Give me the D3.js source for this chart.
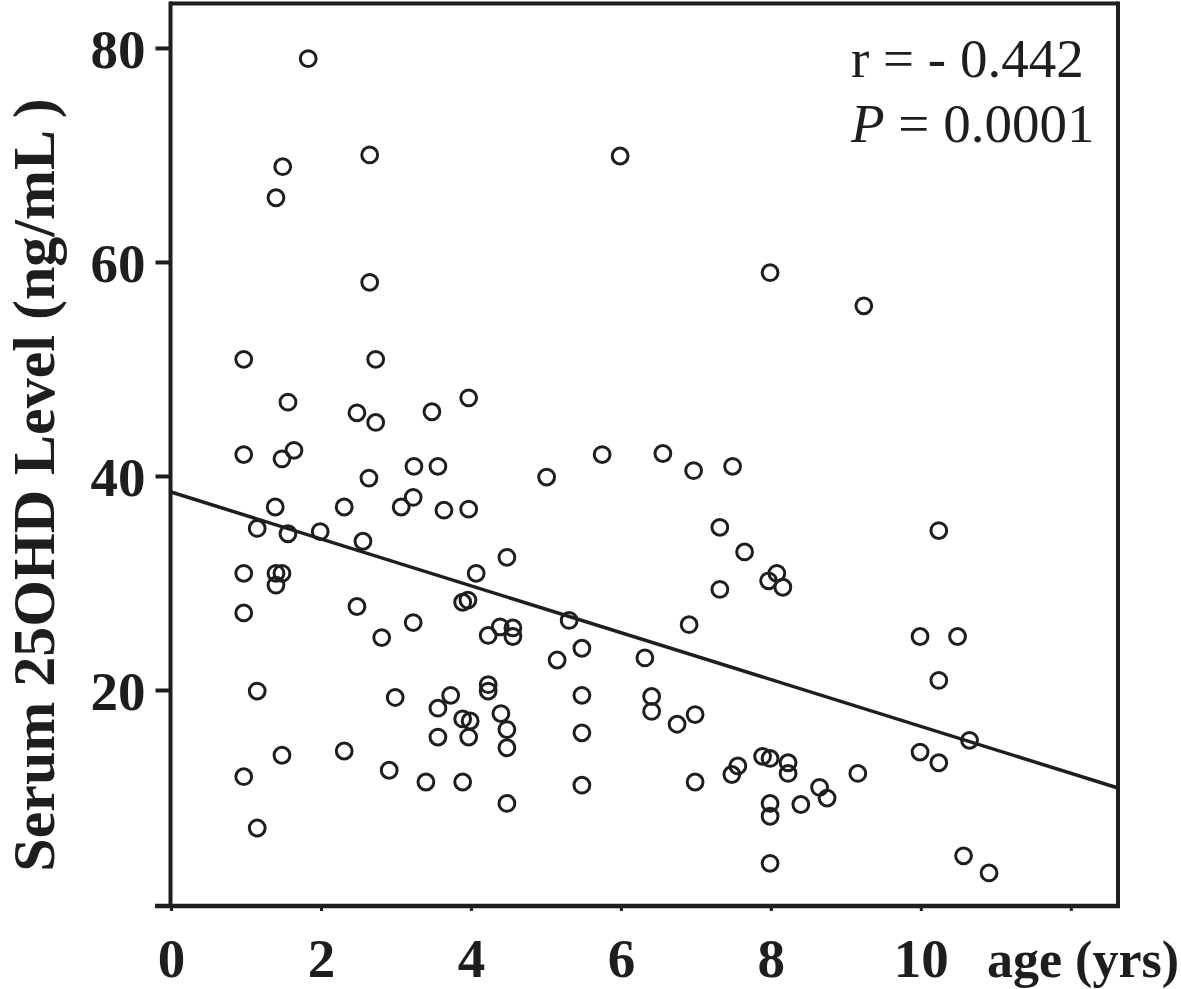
<!DOCTYPE html>
<html>
<head>
<meta charset="utf-8">
<script src="https://cdn.jsdelivr.net/npm/d3@7"></script>
<style>
  html, body { margin: 0; padding: 0; background: #fff; }
  svg { display: block; }
  text { font-family: "Liberation Serif", "Times New Roman", serif; fill: #1e1e1e; }
</style>
</head>
<body>
<svg id="chart" width="1181" height="989"></svg>
<script>
// ---- data ----
const ageYears = [
  1.83, 1.49, 1.40, 2.65, 2.65, 5.99, 7.99, 9.24, 0.97, 2.73,
  1.56, 3.97, 3.48, 2.48, 2.73, 0.97, 1.64, 1.48, 3.24, 3.56,
  5.75, 6.56, 6.97, 7.49, 5.01, 2.64, 1.39, 2.31, 3.23, 3.07,
  3.64, 3.97, 1.15, 1.56, 1.99, 2.56, 7.32, 7.65, 10.24, 4.48,
  0.97, 1.40, 1.48, 1.40, 4.07, 8.08, 7.97, 8.16, 7.32, 3.89,
  3.96, 2.48, 0.97, 5.31, 3.23, 6.91, 4.39, 4.56, 4.23, 4.56,
  2.81, 9.99, 10.49, 5.48, 5.15, 6.32, 10.24, 1.15, 4.23, 4.23,
  2.99, 3.73, 5.48, 6.41, 6.41, 3.56, 6.75, 6.99, 3.89, 3.99,
  4.40, 4.48, 5.48, 3.56, 3.97, 10.65, 4.48, 1.48, 2.31, 9.99,
  7.89, 7.99, 8.23, 8.23, 10.24, 7.56, 7.48, 9.16, 0.97, 2.91,
  3.40, 3.89, 5.48, 6.99, 8.65, 8.75, 7.99, 8.40, 4.48, 7.99,
  1.15, 7.99, 10.57, 10.91
];
const serumLevel = [
  79.0, 68.9, 66.0, 70.0, 58.1, 69.9, 59.0, 55.9, 50.9, 50.9,
  46.9, 47.3, 46.0, 45.9, 45.0, 42.0, 42.4, 41.6, 40.9, 40.9,
  42.0, 42.1, 40.5, 40.9, 39.9, 39.8, 37.1, 37.1, 38.0, 37.1,
  36.8, 36.9, 35.1, 34.6, 34.8, 33.9, 35.2, 32.9, 34.9, 32.4,
  30.9, 30.9, 30.9, 29.8, 30.9, 30.9, 30.2, 29.6, 29.4, 28.2,
  28.4, 27.8, 27.2, 26.5, 26.3, 26.1, 25.9, 25.8, 25.1, 25.0,
  24.9, 25.0, 25.0, 23.9, 22.8, 23.0, 20.9, 19.9, 20.5, 19.9,
  19.3, 19.5, 19.5, 19.4, 18.0, 18.3, 16.8, 17.7, 17.3, 17.1,
  17.8, 16.3, 16.0, 15.6, 15.6, 15.3, 14.6, 13.9, 14.3, 14.2,
  13.8, 13.6, 13.2, 12.2, 13.2, 12.9, 12.1, 12.2, 11.9, 12.5,
  11.4, 11.4, 11.1, 11.4, 10.9, 9.9, 9.4, 9.3, 9.4, 8.2,
  7.1, 3.8, 4.5, 2.9
];
const xTicks = [0, 2, 4, 6, 8, 10, 12];
const xTickLabels = ["0", "2", "4", "6", "8", "10", ""];
const yTicks = [20, 40, 60, 80];
const yTickLabels = ["20", "40", "60", "80"];
const fitIntercept = 38.5;   // regression line value at age 0
const fitSlope = -2.19;      // change per year
const xLabel = "age (yrs)";
const yLabel = "Serum 25OHD Level (ng/mL )";

// ---- layout ----
const ink = "#1e1e1e";
const svg = d3.select("#chart");
const x = d3.scaleLinear().domain([0, 12.63]).range([171, 1118]);
const y = d3.scaleLinear().domain([0, 84.2]).range([904, 3]);
const plotBottom = 906;

// frame: top and right edges
svg.append("line").attr("x1", 170).attr("x2", 1118).attr("y1", 3.5).attr("y2", 3.5)
  .attr("stroke", ink).attr("stroke-width", 4);
svg.append("line").attr("x1", 1118).attr("x2", 1118).attr("y1", 1.5).attr("y2", plotBottom)
  .attr("stroke", ink).attr("stroke-width", 4);

// x axis
const xAxis = d3.axisBottom(x).tickValues(xTicks).tickSize(5)
  .tickFormat((d, i) => xTickLabels[i]).tickSizeOuter(0);
const gx = svg.append("g").attr("transform", `translate(0,${plotBottom})`).call(xAxis);
gx.select(".domain").remove();
gx.selectAll(".tick line").attr("stroke", ink).attr("stroke-width", 3);
gx.selectAll(".tick text").attr("y", 71).attr("dy", 0)
  .style("font-size", "55px").style("font-weight", "bold").attr("fill", ink);
svg.append("line").attr("x1", 155).attr("x2", 1120).attr("y1", plotBottom).attr("y2", plotBottom)
  .attr("stroke", ink).attr("stroke-width", 4.5);

// y axis
const yAxis = d3.axisLeft(y).tickValues(yTicks).tickSize(15)
  .tickFormat((d, i) => yTickLabels[i]).tickSizeOuter(0);
const gy = svg.append("g").attr("transform", "translate(170.5,0)").call(yAxis);
gy.select(".domain").remove();
gy.selectAll(".tick line").attr("stroke", ink).attr("stroke-width", 4);
gy.selectAll(".tick text").attr("x", -25).attr("dy", "0.36em")
  .style("font-size", "55px").style("font-weight", "bold").attr("fill", ink);
svg.append("line").attr("x1", 170.5).attr("x2", 170.5).attr("y1", 1.5).attr("y2", plotBottom + 2)
  .attr("stroke", ink).attr("stroke-width", 4);

// regression line
const xMax = x.domain()[1];
svg.append("line")
  .attr("x1", x(0)).attr("y1", y(fitIntercept))
  .attr("x2", x(xMax)).attr("y2", y(fitIntercept + fitSlope * xMax))
  .attr("stroke", ink).attr("stroke-width", 3.5);

// points
svg.append("g").selectAll("circle")
  .data(ageYears.map((a, i) => [a, serumLevel[i]]))
  .join("circle")
  .attr("cx", d => x(d[0])).attr("cy", d => y(d[1]))
  .attr("r", 7.9).attr("fill", "none").attr("stroke", ink).attr("stroke-width", 3);

// stats annotation
svg.append("text").attr("x", 851).attr("y", 77)
  .style("font-size", "55px").text("r = - 0.442");
const t2 = svg.append("text").attr("x", 851).attr("y", 142).style("font-size", "55px");
t2.append("tspan").style("font-style", "italic").text("P");
t2.append("tspan").text(" = 0.0001");

// axis titles
svg.append("text").attr("x", 987).attr("y", 977)
  .style("font-size", "52px").style("font-weight", "bold").text(xLabel);
svg.append("text")
  .attr("transform", "translate(54,485) rotate(-90)")
  .attr("text-anchor", "middle")
  .style("font-size", "60px").style("font-weight", "bold").text(yLabel);
</script>
</body>
</html>
